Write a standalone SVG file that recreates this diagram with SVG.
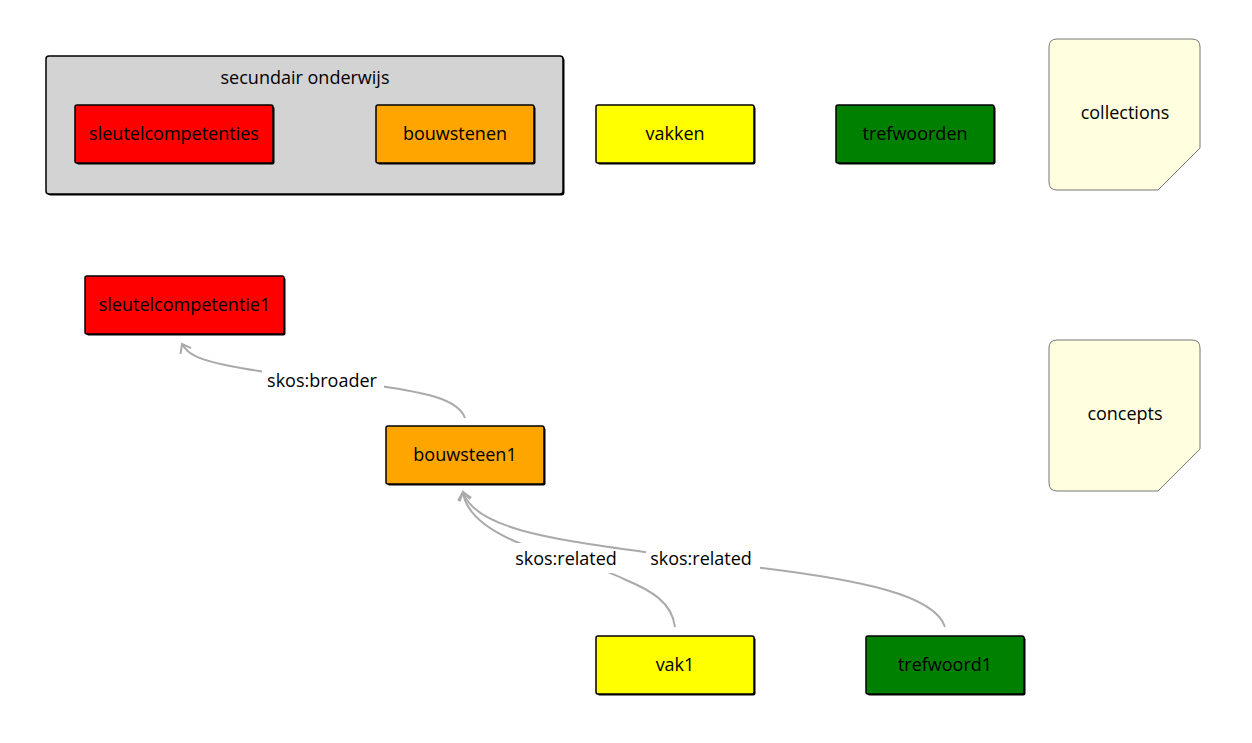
<svg xmlns="http://www.w3.org/2000/svg" width="1252" height="743" viewBox="0 0 1252 743">
<style>
.t{font-family:"Open Sans","Noto Sans",sans-serif;font-size:18px;fill:#000;text-anchor:middle;dominant-baseline:central}
.box{stroke:#000;stroke-width:1.5}
.sh{fill:#000}
.edge{fill:none;stroke:#aaa;stroke-width:2}
.lbg{fill:#fff}
.note{fill:#ffffe0;stroke:#777;stroke-width:1}
</style>
<defs>
<marker id="arr" markerWidth="14" markerHeight="14" refX="10" refY="7" orient="auto" markerUnits="userSpaceOnUse">
<path d="M2,1 L10,7 L2,13" fill="none" stroke="#aaa" stroke-width="2"/>
</marker>
</defs>
<rect width="1252" height="743" fill="#fff"/>
<g id="secundair-onderwijs">
<rect class="sh" x="47.5" y="57.5" width="517" height="138" rx="3"/>
<rect class="box" x="46" y="56" width="517" height="138" rx="3" fill="#d3d3d3"/>
<text class="t" x="305" y="77">secundair onderwijs</text>
</g>
<g id="sleutelcompetenties">
<rect class="sh" x="76.5" y="106.5" width="198" height="58" rx="2"/>
<rect class="box" x="75" y="105" width="198" height="58" rx="2" fill="#ff0000"/>
<text class="t" x="174" y="133">sleutelcompetenties</text>
</g>
<g id="bouwstenen">
<rect class="sh" x="377.5" y="106.5" width="158" height="58" rx="2"/>
<rect class="box" x="376" y="105" width="158" height="58" rx="2" fill="#ffa500"/>
<text class="t" x="455" y="133">bouwstenen</text>
</g>
<g id="vakken">
<rect class="sh" x="597.5" y="106.5" width="158" height="58" rx="2"/>
<rect class="box" x="596" y="105" width="158" height="58" rx="2" fill="#ffff00"/>
<text class="t" x="675" y="133">vakken</text>
</g>
<g id="trefwoorden">
<rect class="sh" x="837.5" y="106.5" width="158" height="58" rx="2"/>
<rect class="box" x="836" y="105" width="158" height="58" rx="2" fill="#008000"/>
<text class="t" x="915" y="133">trefwoorden</text>
</g>
<g id="collections">
<path class="note" d="M1057,39 H1192 Q1200,39 1200,47 V148 L1158,190 H1057 Q1049,190 1049,182 V47 Q1049,39 1057,39 Z"/>
<text class="t" x="1125" y="112">collections</text>
</g>
<g id="concepts">
<path class="note" d="M1057,340 H1192 Q1200,340 1200,348 V449 L1158,491 H1057 Q1049,491 1049,483 V348 Q1049,340 1057,340 Z"/>
<text class="t" x="1125" y="413">concepts</text>
</g>
<g id="sleutelcompetentie1">
<rect class="sh" x="86.5" y="277.5" width="199" height="58" rx="2"/>
<rect class="box" x="85" y="276" width="199" height="58" rx="2" fill="#ff0000"/>
<text class="t" x="184.5" y="304">sleutelcompetentie1</text>
</g>
<g id="bouwsteen1">
<rect class="sh" x="387.5" y="427.5" width="158" height="58" rx="2"/>
<rect class="box" x="386" y="426" width="158" height="58" rx="2" fill="#ffa500"/>
<text class="t" x="465" y="454">bouwsteen1</text>
</g>
<g id="vak1">
<rect class="sh" x="597.5" y="637.5" width="158" height="58" rx="2"/>
<rect class="box" x="596" y="636" width="158" height="58" rx="2" fill="#ffff00"/>
<text class="t" x="675" y="664">vak1</text>
</g>
<g id="trefwoord1">
<rect class="sh" x="867.5" y="637.5" width="158" height="58" rx="2"/>
<rect class="box" x="866" y="636" width="158" height="58" rx="2" fill="#008000"/>
<text class="t" x="945" y="664">trefwoord1</text>
</g>
<g id="connectors">
<path class="edge" marker-end="url(#arr)" d="M465,418 C458,398 420,392 380,386 C330,379 280,376 230,366 C200,360 188,355 182,344"/>
<path class="edge" marker-end="url(#arr)" d="M675,627 C672,602 650,590 626,580 C590,562 545,555 512,540 C490,530 466,515 463,492"/>
<rect class="lbg" x="514" y="543" width="110" height="30"/>
<path class="edge" marker-end="url(#arr)" d="M945,627 C935,595 860,580 762,568 L645,552 C560,540 475,530 463,492"/>
<rect class="lbg" x="262" y="368" width="122" height="26"/>
<text class="t" x="322" y="380">skos:broader</text>
<rect class="lbg" x="646" y="545" width="114" height="28"/>
<text class="t" x="566" y="558">skos:related</text>
<text class="t" x="701" y="558">skos:related</text>
</g>
</svg>
